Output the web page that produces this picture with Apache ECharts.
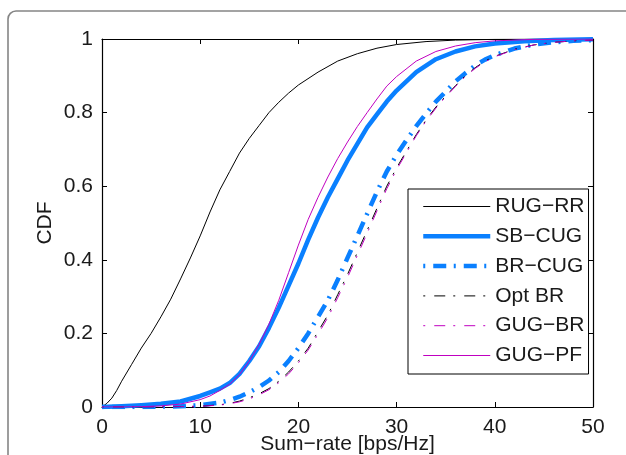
<!DOCTYPE html>
<html>
<head>
<meta charset="utf-8">
<script src="https://cdn.jsdelivr.net/npm/echarts@6/dist/echarts.min.js"></script>
<style>
html,body{margin:0;padding:0;background:#fff;}
#c{width:626px;height:455px;}
</style>
</head>
<body>
<div id="c"></div>
<script>
// ---- data ----
var seriesNames = ['RUG\u2212RR', 'SB\u2212CUG', 'BR\u2212CUG', 'Opt BR', 'GUG\u2212BR', 'GUG\u2212PF'];
var xTicks = [0, 10, 20, 30, 40, 50];
var yTicks = [0, 0.2, 0.4, 0.6, 0.8, 1];

var xRugRR = [0,0.5,1,1.5,2,3,4,5,6,7,8,9,10,11,12,13,14,15,16,17,18,19,20,22,24,26,28,30,33,36,40,45,50];
var yRugRR = [0,0.01,0.024,0.045,0.07,0.115,0.16,0.2,0.245,0.293,0.348,0.405,0.465,0.53,0.59,0.64,0.69,0.73,0.765,0.8,0.828,0.853,0.875,0.91,0.94,0.96,0.975,0.985,0.993,0.997,0.999,1,1];

var xSbCug = [0,2,4,6,8,10,11,12,13,14,15,16,17,18,19,20,21,22,23,24,25,26,27,28,29,30,32,34,36,38,40,43,46,50];
var ySbCug = [0,0.002,0.005,0.009,0.015,0.03,0.04,0.05,0.065,0.09,0.125,0.165,0.215,0.27,0.33,0.39,0.455,0.515,0.57,0.62,0.67,0.715,0.76,0.795,0.83,0.86,0.91,0.945,0.966,0.98,0.988,0.994,0.997,0.999];

var xBrCug = [0,4,6,8,10,12,13,14,15,16,17,18,19,20,21,22,23,24,25,26,27,28,29,30,31,32,33,34,35,36,37,38,39,40,42,44,46,48,50];
var yBrCug = [0,0,0.001,0.002,0.005,0.012,0.019,0.028,0.04,0.054,0.072,0.095,0.125,0.16,0.2,0.245,0.29,0.345,0.405,0.465,0.525,0.585,0.64,0.685,0.725,0.763,0.797,0.83,0.857,0.885,0.907,0.928,0.944,0.956,0.974,0.985,0.991,0.995,0.997];

var xOptBr = [0,6,8,10,12,13,14,15,16,17,18,19,20,21,22,23,24,25,26,27,28,29,30,31,32,33,34,35,36,37,38,39,40,42,44,46,48,50];
var yOptBr = [0,0,0.001,0.002,0.006,0.01,0.016,0.025,0.036,0.05,0.07,0.095,0.125,0.16,0.205,0.25,0.305,0.36,0.42,0.48,0.54,0.6,0.65,0.695,0.74,0.78,0.815,0.845,0.873,0.9,0.922,0.94,0.953,0.972,0.984,0.991,0.995,0.997];

var xGugBr = [0,6,8,10,12,13,14,15,16,17,18,19,20,21,22,23,24,25,26,27,28,29,30,31,32,33,34,35,36,37,38,39,40,42,44,46,48,50];
var yGugBr = [0,0,0.001,0.002,0.005,0.009,0.014,0.022,0.033,0.047,0.066,0.09,0.12,0.155,0.198,0.243,0.297,0.352,0.412,0.472,0.533,0.593,0.645,0.691,0.737,0.777,0.812,0.843,0.871,0.898,0.92,0.938,0.952,0.971,0.984,0.991,0.995,0.997];

var xGugPf = [0,2,4,6,8,10,11,12,13,14,15,16,17,18,19,20,21,22,23,24,25,26,27,28,29,30,32,34,36,38,40,44,50];
var yGugPf = [0,0,0.001,0.003,0.008,0.02,0.03,0.045,0.062,0.088,0.125,0.17,0.225,0.29,0.365,0.44,0.51,0.57,0.625,0.675,0.72,0.762,0.8,0.837,0.872,0.898,0.94,0.966,0.981,0.99,0.995,0.999,1];

function pairs(xs, ys){ return xs.map(function(x,i){ return [x, ys[i]]; }); }

var FONT = 'Liberation Sans, Arial, Helvetica, sans-serif';
var chart = echarts.init(document.getElementById('c'), null, {renderer:'canvas'});

function mk(name, xs, ys, color, width, dash){
  return {
    name: name, type: 'line', data: pairs(xs, ys),
    symbol: 'none', showSymbol: false, smooth: false,
    lineStyle: {color: color, width: width, type: dash || 'solid', cap: 'butt', join: 'round'},
    itemStyle: {color: color},
    emphasis: {disabled: true}, animation: false
  };
}

var option = {
  backgroundColor: '#fff',
  animation: false,
  graphic: [{
    type: 'rect', z: -10, silent: true,
    shape: {x: 8, y: 11, width: 700, height: 520, r: 8},
    style: {fill: 'none', stroke: '#858585', lineWidth: 1.6}
  }],
  grid: {left: 102, top: 39, width: 491, height: 368, containLabel: false, outerBoundsMode: 'none'},
  legend: {
    orient: 'vertical', left: 408, top: 189,
    padding: [7, 4, 8, 13],
    itemWidth: 67, itemHeight: 21, itemGap: 8.8,
    borderColor: '#000', borderWidth: 1, backgroundColor: '#fff',
    selectedMode: false,
    textStyle: {fontSize: 21, color: '#1a1a1a', fontFamily: FONT, padding: [0,0,0,0]},
    itemStyle: {color: 'rgba(0,0,0,0)', borderColor: 'rgba(0,0,0,0)', borderWidth: 0, opacity: 0},
    lineStyle: {width: 'inherit', type: 'inherit', opacity: 1},
    data: seriesNames
  },
  xAxis: [{
    type: 'value', min: 0, max: 50, interval: 10, position: 'bottom',
    name: 'Sum\u2212rate [bps/Hz]', nameLocation: 'middle', nameGap: 27, nameMoveOverlap: false,
    nameTextStyle: {fontSize: 21, color: '#1a1a1a', fontFamily: FONT},
    axisLine: {show: true, onZero: false, lineStyle: {color: '#000', width: 1.2}},
    axisTick: {show: true, inside: true, length: 5, lineStyle: {color: '#000', width: 1}},
    axisLabel: {fontSize: 21, color: '#1a1a1a', fontFamily: FONT, margin: 10,
      formatter: function(v){ return xTicks.indexOf(v) >= 0 ? String(v) : ''; }},
    splitLine: {show: false}
  }, {
    type: 'value', min: 0, max: 50, interval: 10, position: 'top',
    axisLine: {show: true, onZero: false, lineStyle: {color: '#000', width: 1.2}},
    axisTick: {show: true, inside: true, length: 5, lineStyle: {color: '#000', width: 1}},
    axisLabel: {show: false}, splitLine: {show: false}
  }],
  yAxis: [{
    type: 'value', min: 0, max: 1, interval: 0.2, position: 'left',
    name: 'CDF', nameLocation: 'middle', nameGap: 46, nameRotate: 90, nameMoveOverlap: false,
    nameTextStyle: {fontSize: 21, color: '#1a1a1a', fontFamily: FONT},
    axisLine: {show: true, onZero: false, lineStyle: {color: '#000', width: 1.2}},
    axisTick: {show: true, inside: true, length: 5, lineStyle: {color: '#000', width: 1}},
    axisLabel: {fontSize: 21, color: '#1a1a1a', fontFamily: FONT, margin: 9,
      formatter: function(v){ var r = Math.round(v*10)/10; return yTicks.indexOf(r) >= 0 ? String(r) : ''; }},
    splitLine: {show: false}
  }, {
    type: 'value', min: 0, max: 1, interval: 0.2, position: 'right',
    axisLine: {show: true, onZero: false, lineStyle: {color: '#000', width: 1.2}},
    axisTick: {show: true, inside: true, length: 5, lineStyle: {color: '#000', width: 1}},
    axisLabel: {show: false}, splitLine: {show: false}
  }],
  series: [
    mk(seriesNames[0], xRugRR, yRugRR, '#000000', 1),
    mk(seriesNames[1], xSbCug, ySbCug, '#0a80ff', 4.5),
    mk(seriesNames[2], xBrCug, yBrCug, '#0a80ff', 4.5, [2, 8, 13, 7.5]),
    mk(seriesNames[3], xOptBr, yOptBr, '#000000', 1, [2, 9, 11, 8]),
    mk(seriesNames[4], xGugBr, yGugBr, '#c000c0', 1, [2, 9, 11, 8]),
    mk(seriesNames[5], xGugPf, yGugPf, '#c000c0', 1)
  ]
};
chart.setOption(option);
</script>
</body>
</html>
